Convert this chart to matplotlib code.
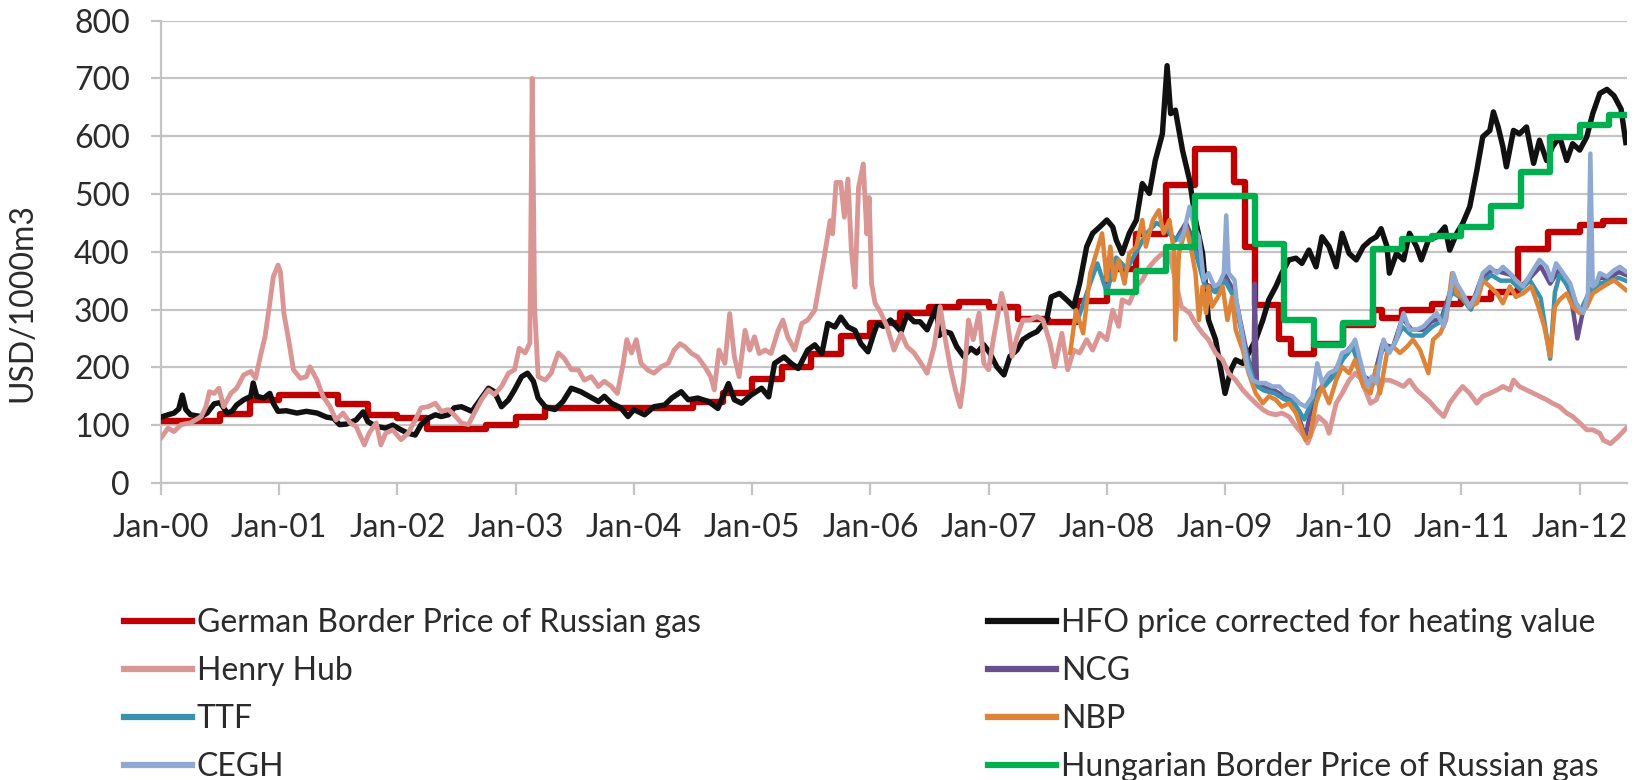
import matplotlib
matplotlib.use("Agg")
import matplotlib.pyplot as plt

# ---------------- data (decimal years, USD/1000m3) ----------------
years = list(range(2000, 2013))
year_labels = ["Jan-%02d" % (y % 100) for y in years]

german_t = [2000.0, 2000.5, 2000.75, 2001.0, 2001.5, 2001.75, 2002.0, 2002.25, 2002.75, 2003.0,
            2003.25, 2004.5, 2004.75, 2005.0, 2005.25, 2005.5, 2005.75, 2006.0, 2006.25, 2006.5,
            2006.75, 2007.0, 2007.25, 2007.5, 2007.75, 2008.0, 2008.25, 2008.5, 2008.75, 2009.08,
            2009.17, 2009.25, 2009.46, 2009.56, 2009.75, 2010.0, 2010.25, 2010.33, 2010.5, 2010.75,
            2011.0, 2011.25, 2011.48, 2011.73, 2012.0, 2012.2, 2012.4]
german_v = [108, 120, 143, 153, 136, 117, 113, 93, 100, 115,
            129, 140, 155, 180, 200, 224, 255, 277, 294, 305,
            313, 304, 283, 279, 315, 370, 430, 515, 578, 520,
            409, 308, 250, 224, 240, 273, 299, 285, 300, 310,
            318, 330, 405, 435, 446, 453, 453]

hungarian_t = [2008.0, 2008.25, 2008.5, 2008.75, 2009.25, 2009.5, 2009.75, 2010.0, 2010.25, 2010.5,
               2010.75, 2011.0, 2011.25, 2011.5, 2011.75, 2012.0, 2012.25, 2012.4]
hungarian_v = [330, 367, 408, 496, 414, 282, 238, 277, 405, 422,
               428, 443, 480, 538, 598, 620, 637, 637]

hfo_t = [2000.0, 2000.06, 2000.11, 2000.15, 2000.18, 2000.21, 2000.25, 2000.34, 2000.39, 2000.45,
         2000.5, 2000.56, 2000.6, 2000.64, 2000.7, 2000.76, 2000.78, 2000.81, 2000.87, 2000.92,
         2000.95, 2000.99, 2001.06, 2001.15, 2001.23, 2001.32, 2001.4, 2001.46, 2001.51, 2001.57,
         2001.65, 2001.71, 2001.75, 2001.82, 2001.9, 2001.96, 2002.03, 2002.09, 2002.15, 2002.2,
         2002.26, 2002.32, 2002.37, 2002.43, 2002.48, 2002.54, 2002.63, 2002.71, 2002.77, 2002.82,
         2002.88, 2002.94, 2002.99, 2003.05, 2003.1, 2003.15, 2003.19, 2003.25, 2003.33, 2003.4,
         2003.47, 2003.55, 2003.62, 2003.7, 2003.75, 2003.81, 2003.89, 2003.95, 2004.0, 2004.09,
         2004.17, 2004.26, 2004.32, 2004.4, 2004.46, 2004.54, 2004.63, 2004.71, 2004.8, 2004.85,
         2004.91, 2004.99, 2005.08, 2005.14, 2005.19, 2005.27, 2005.33, 2005.39, 2005.47, 2005.53,
         2005.59, 2005.64, 2005.7, 2005.75, 2005.81, 2005.87, 2005.92, 2005.98, 2006.03, 2006.06,
         2006.11, 2006.17, 2006.26, 2006.31, 2006.37, 2006.42, 2006.48, 2006.56, 2006.58, 2006.63,
         2006.68, 2006.73, 2006.79, 2006.85, 2006.9, 2006.96, 2007.01, 2007.07, 2007.13, 2007.18,
         2007.24, 2007.29, 2007.35, 2007.41, 2007.49, 2007.53, 2007.6, 2007.66, 2007.72, 2007.77,
         2007.83, 2007.88, 2007.94, 2008.0, 2008.05, 2008.08, 2008.13, 2008.19, 2008.25, 2008.3,
         2008.36, 2008.41, 2008.47, 2008.51, 2008.54, 2008.58, 2008.64, 2008.7, 2008.75, 2008.81,
         2008.86, 2008.92, 2008.96, 2009.0, 2009.05, 2009.09, 2009.15, 2009.2, 2009.26, 2009.32,
         2009.37, 2009.43, 2009.48, 2009.54, 2009.6, 2009.65, 2009.71, 2009.77, 2009.82, 2009.88,
         2009.94, 2009.99, 2010.05, 2010.11, 2010.17, 2010.23, 2010.28, 2010.32, 2010.37, 2010.39,
         2010.45, 2010.51, 2010.56, 2010.62, 2010.66, 2010.72, 2010.79, 2010.86, 2010.9, 2010.96,
         2011.01, 2011.07, 2011.13, 2011.18, 2011.24, 2011.27, 2011.31, 2011.35, 2011.38, 2011.44,
         2011.49, 2011.55, 2011.61, 2011.66, 2011.72, 2011.77, 2011.83, 2011.89, 2011.94, 2012.0,
         2012.06, 2012.11, 2012.17, 2012.23, 2012.29, 2012.35, 2012.39]
hfo_v = [114, 118, 121, 128, 152, 127, 118, 115, 121, 137,
         139, 121, 124, 135, 144, 150, 173, 150, 147, 155,
         138, 124, 125, 121, 124, 121, 114, 112, 101, 102,
         109, 123, 106, 98, 95, 100, 92, 86, 83, 101,
         112, 118, 115, 118, 130, 132, 124, 147, 164, 158,
         132, 144, 161, 184, 190, 176, 147, 132, 127, 141,
         164, 158, 150, 141, 150, 138, 130, 115, 127, 118,
         132, 135, 147, 158, 144, 147, 141, 129, 172, 144,
         138, 152, 164, 149, 207, 218, 207, 198, 230, 239,
         224, 276, 270, 287, 270, 264, 241, 227, 259, 276,
         271, 282, 262, 291, 279, 279, 265, 305, 255, 262,
         259, 236, 219, 233, 225, 239, 225, 201, 187, 219,
         230, 248, 256, 262, 282, 322, 328, 317, 305, 345,
         409, 432, 443, 455, 443, 420, 397, 432, 455, 518,
         501, 558, 604, 722, 639, 645, 576, 524, 455, 397,
         282, 248, 201, 155, 196, 213, 207, 225, 248, 282,
         317, 340, 363, 386, 389, 380, 403, 374, 426, 409,
         374, 432, 397, 386, 409, 420, 426, 440, 409, 363,
         397, 386, 432, 409, 386, 420, 426, 443, 403, 432,
         449, 478, 541, 599, 610, 642, 616, 582, 547, 610,
         604, 616, 553, 593, 558, 582, 599, 558, 587, 576,
         599, 639, 674, 681, 670, 647, 589]

henry_t = [2000.0, 2000.06, 2000.11, 2000.17, 2000.25, 2000.34, 2000.38, 2000.41, 2000.45, 2000.49,
           2000.53, 2000.59, 2000.64, 2000.7, 2000.76, 2000.8, 2000.84, 2000.88, 2000.92, 2000.95,
           2000.99, 2001.01, 2001.04, 2001.08, 2001.12, 2001.18, 2001.23, 2001.26, 2001.32, 2001.37,
           2001.43, 2001.48, 2001.54, 2001.6, 2001.65, 2001.72, 2001.76, 2001.82, 2001.86, 2001.9,
           2001.96, 2002.03, 2002.09, 2002.15, 2002.2, 2002.26, 2002.32, 2002.37, 2002.43, 2002.48,
           2002.54, 2002.6, 2002.65, 2002.71, 2002.77, 2002.82, 2002.88, 2002.94, 2002.99, 2003.03,
           2003.08, 2003.12, 2003.14, 2003.16, 2003.19, 2003.25, 2003.3, 2003.36, 2003.41, 2003.47,
           2003.53, 2003.58, 2003.64, 2003.7, 2003.75, 2003.81, 2003.86, 2003.91, 2003.94, 2003.98,
           2004.02, 2004.06, 2004.12, 2004.17, 2004.23, 2004.29, 2004.34, 2004.39, 2004.43, 2004.49,
           2004.54, 2004.6, 2004.65, 2004.68, 2004.72, 2004.77, 2004.81, 2004.85, 2004.89, 2004.94,
           2004.98, 2005.02, 2005.06, 2005.11, 2005.16, 2005.22, 2005.26, 2005.3, 2005.36, 2005.42,
           2005.47, 2005.53, 2005.57, 2005.61, 2005.66, 2005.68, 2005.71, 2005.75, 2005.78, 2005.81,
           2005.84, 2005.87, 2005.9, 2005.94, 2005.97, 2005.99, 2006.01, 2006.04, 2006.09, 2006.14,
           2006.2, 2006.26, 2006.31, 2006.37, 2006.42, 2006.48, 2006.54, 2006.59, 2006.63, 2006.68,
           2006.72, 2006.76, 2006.79, 2006.83, 2006.87, 2006.92, 2006.96, 2007.0, 2007.04, 2007.08,
           2007.11, 2007.15, 2007.2, 2007.24, 2007.29, 2007.35, 2007.41, 2007.46, 2007.52, 2007.56,
           2007.62, 2007.67, 2007.72, 2007.77, 2007.83, 2007.88, 2007.94, 2008.0, 2008.05, 2008.1,
           2008.13, 2008.19, 2008.25, 2008.3, 2008.36, 2008.41, 2008.47, 2008.53, 2008.58, 2008.63,
           2008.7, 2008.75, 2008.81, 2008.86, 2008.92, 2008.98, 2009.03, 2009.09, 2009.15, 2009.2,
           2009.26, 2009.32, 2009.37, 2009.43, 2009.48, 2009.54, 2009.6, 2009.65, 2009.7, 2009.74,
           2009.79, 2009.85, 2009.88, 2009.94, 2009.99, 2010.05, 2010.1, 2010.15, 2010.23, 2010.28,
           2010.34, 2010.39, 2010.45, 2010.51, 2010.56, 2010.62, 2010.68, 2010.73, 2010.79, 2010.85,
           2010.9, 2010.96, 2011.01, 2011.07, 2011.13, 2011.18, 2011.24, 2011.3, 2011.35, 2011.41,
           2011.44, 2011.49, 2011.55, 2011.61, 2011.66, 2011.72, 2011.77, 2011.83, 2011.89, 2011.94,
           2012.0, 2012.06, 2012.11, 2012.17, 2012.2, 2012.26, 2012.32, 2012.39]
henry_v = [78, 95, 89, 101, 104, 115, 132, 158, 155, 164,
           132, 155, 164, 187, 193, 181, 219, 253, 311, 357,
           377, 365, 293, 247, 196, 181, 184, 201, 178, 150,
           132, 109, 121, 104, 98, 66, 86, 104, 66, 86,
           92, 75, 86, 109, 130, 132, 138, 124, 127, 118,
           104, 101, 121, 144, 161, 153, 167, 190, 196, 233,
           225, 242, 700, 305, 184, 178, 190, 225, 216, 196,
           196, 178, 184, 167, 176, 167, 155, 207, 248, 225,
           248, 207, 195, 190, 201, 207, 230, 241, 236, 224,
           218, 201, 184, 161, 230, 207, 293, 218, 184, 264,
           230, 253, 224, 230, 224, 264, 282, 253, 230, 276,
           282, 299, 345, 391, 454, 431, 520, 520, 460, 526,
           402, 339, 511, 552, 431, 494, 345, 311, 294, 271,
           230, 259, 236, 225, 210, 190, 236, 305, 253, 196,
           161, 132, 178, 282, 248, 294, 207, 196, 248, 294,
           328, 294, 219, 253, 282, 282, 288, 282, 242, 201,
           259, 196, 230, 225, 248, 230, 259, 248, 299, 271,
           317, 311, 340, 351, 374, 386, 397, 397, 351, 305,
           294, 276, 259, 248, 225, 213, 190, 178, 161, 150,
           138, 127, 121, 118, 121, 115, 98, 86, 69, 92,
           115, 104, 86, 138, 155, 178, 190, 180, 138, 144,
           178, 178, 173, 167, 178, 161, 150, 141, 127, 115,
           138, 155, 167, 155, 138, 150, 155, 161, 167, 161,
           178, 167, 161, 155, 150, 144, 138, 132, 121, 115,
           104, 92, 92, 86, 74, 68, 79, 94]

ncg_t = [2008.5, 2008.58, 2008.67, 2008.75, 2008.83, 2008.92, 2009.0, 2009.08, 2009.17, 2009.24,
         2009.25, 2009.27, 2009.33, 2009.42, 2009.5, 2009.58, 2009.68, 2009.75, 2009.83, 2009.92,
         2010.0, 2010.08, 2010.17, 2010.25, 2010.33, 2010.42, 2010.5, 2010.58, 2010.67, 2010.75,
         2010.83, 2010.92, 2011.0, 2011.08, 2011.17, 2011.25, 2011.33, 2011.42, 2011.5, 2011.58,
         2011.67, 2011.75, 2011.83, 2011.92, 2011.98, 2012.03, 2012.08, 2012.17, 2012.25, 2012.33,
         2012.39]
ncg_v = [440, 420, 450, 410, 345, 335, 360, 330, 240, 175,
         345, 175, 165, 160, 150, 140, 80, 150, 170, 190,
         220, 240, 185, 175, 240, 235, 285, 265, 265, 280,
         285, 340, 325, 305, 355, 368, 365, 360, 340, 355,
         375, 345, 370, 330, 250, 300, 330, 355, 355, 365,
         360]

ttf_t = [2007.75, 2007.85, 2007.92, 2008.0, 2008.08, 2008.17, 2008.25, 2008.33, 2008.42, 2008.5,
         2008.58, 2008.67, 2008.75, 2008.83, 2008.92, 2009.0, 2009.08, 2009.17, 2009.25, 2009.33,
         2009.42, 2009.5, 2009.58, 2009.67, 2009.75, 2009.83, 2009.92, 2010.0, 2010.08, 2010.17,
         2010.25, 2010.33, 2010.42, 2010.5, 2010.58, 2010.67, 2010.75, 2010.83, 2010.92, 2011.0,
         2011.08, 2011.17, 2011.25, 2011.33, 2011.42, 2011.5, 2011.58, 2011.67, 2011.75, 2011.79,
         2011.83, 2011.92, 2012.0, 2012.08, 2012.17, 2012.25, 2012.33, 2012.39]
ttf_v = [280, 340, 380, 330, 390, 370, 400, 430, 450, 440,
         420, 440, 400, 340, 330, 350, 320, 230, 170, 160,
         155, 145, 140, 110, 150, 165, 185, 215, 235, 180,
         170, 230, 235, 270, 255, 255, 270, 280, 330, 320,
         300, 345, 360, 350, 350, 335, 350, 320, 215, 330,
         360, 335, 295, 330, 345, 350, 355, 350]

nbp_t = [2007.69, 2007.74, 2007.8, 2007.86, 2007.91, 2007.96, 2008.0, 2008.03, 2008.06, 2008.1,
         2008.15, 2008.19, 2008.25, 2008.3, 2008.33, 2008.39, 2008.44, 2008.48, 2008.53, 2008.57,
         2008.58, 2008.61, 2008.67, 2008.71, 2008.75, 2008.78, 2008.81, 2008.84, 2008.86, 2008.89,
         2008.94, 2008.98, 2009.02, 2009.06, 2009.09, 2009.15, 2009.2, 2009.26, 2009.32, 2009.37,
         2009.43, 2009.48, 2009.54, 2009.6, 2009.64, 2009.68, 2009.72, 2009.77, 2009.82, 2009.88,
         2009.94, 2009.99, 2010.05, 2010.1, 2010.17, 2010.23, 2010.28, 2010.31, 2010.37, 2010.42,
         2010.48, 2010.54, 2010.59, 2010.65, 2010.72, 2010.76, 2010.82, 2010.87, 2010.92, 2010.96,
         2011.01, 2011.07, 2011.13, 2011.18, 2011.24, 2011.3, 2011.35, 2011.41, 2011.46, 2011.52,
         2011.59, 2011.65, 2011.7, 2011.75, 2011.79, 2011.83, 2011.89, 2011.94, 2012.0, 2012.06,
         2012.11, 2012.2, 2012.29, 2012.39]
nbp_v = [225, 299, 259, 363, 397, 432, 351, 409, 351, 386,
         345, 397, 409, 455, 409, 455, 472, 432, 455, 397,
         248, 397, 443, 409, 363, 282, 340, 294, 340, 305,
         322, 340, 282, 322, 265, 230, 190, 155, 138, 150,
         144, 132, 138, 121, 98, 75, 81, 138, 167, 138,
         178, 201, 190, 213, 167, 155, 201, 155, 225, 236,
         225, 236, 248, 230, 190, 248, 259, 282, 363, 328,
         322, 305, 311, 351, 340, 328, 311, 340, 322, 328,
         340, 305, 271, 219, 305, 317, 328, 305, 294, 305,
         328, 340, 351, 334]

cegh_t = [2008.62, 2008.65, 2008.7, 2008.74, 2008.78, 2008.82, 2008.86, 2008.91, 2008.95, 2008.99,
          2009.01, 2009.03, 2009.08, 2009.1, 2009.15, 2009.19, 2009.23, 2009.29, 2009.34, 2009.4,
          2009.46, 2009.51, 2009.57, 2009.63, 2009.68, 2009.74, 2009.78, 2009.82, 2009.88, 2009.94,
          2009.99, 2010.05, 2010.1, 2010.17, 2010.21, 2010.24, 2010.28, 2010.34, 2010.39, 2010.45,
          2010.51, 2010.56, 2010.62, 2010.68, 2010.73, 2010.79, 2010.85, 2010.9, 2010.93, 2010.96,
          2011.01, 2011.07, 2011.13, 2011.18, 2011.24, 2011.3, 2011.35, 2011.41, 2011.46, 2011.52,
          2011.59, 2011.66, 2011.72, 2011.76, 2011.8, 2011.86, 2011.92, 2011.97, 2012.03, 2012.07,
          2012.09, 2012.11, 2012.14, 2012.17, 2012.23, 2012.29, 2012.34, 2012.39]
cegh_v = [420, 432, 478, 443, 426, 351, 363, 340, 345, 363,
          463, 363, 351, 311, 253, 201, 178, 173, 173, 167,
          167, 155, 150, 138, 132, 150, 207, 173, 190, 196,
          225, 230, 248, 190, 167, 184, 173, 248, 225, 248,
          294, 265, 265, 271, 282, 294, 271, 322, 363, 345,
          328, 305, 328, 363, 374, 363, 374, 363, 351, 340,
          363, 386, 374, 351, 380, 363, 345, 311, 294, 328,
          570, 340, 345, 363, 357, 368, 374, 366]

# ---------------- styling ----------------
plt.rcParams["font.family"] = ["Lato", "DejaVu Sans"]
TXT = "#2B2B2B"
GRID = "#C4C4C4"
FS = 23

fig = plt.figure(figsize=(16.35, 7.8), dpi=100)
ax = fig.add_axes([161 / 1635, 1 - 483 / 780, (1627 - 161) / 1635, (483 - 20.6) / 780])

h_red, = ax.plot(german_t, german_v, drawstyle="steps-post", color="#C00000", lw=4.6,
                 label="German Border Price of Russian gas", zorder=3)
h_blk, = ax.plot(hfo_t, hfo_v, color="#111111", lw=3.9,
                 label="HFO price corrected for heating value", zorder=4)
h_hh, = ax.plot(henry_t, henry_v, color="#DA9694", lw=3.5, label="Henry Hub", zorder=5)
h_ncg, = ax.plot(ncg_t, ncg_v, color="#6A4F8E", lw=3.2, label="NCG", zorder=6)
h_ttf, = ax.plot(ttf_t, ttf_v, color="#3A93AE", lw=3.2, label="TTF", zorder=7)
h_nbp, = ax.plot(nbp_t, nbp_v, color="#DE8439", lw=3.2, label="NBP", zorder=8)
h_ceg, = ax.plot(cegh_t, cegh_v, color="#8EA9D2", lw=3.2, label="CEGH", zorder=9)
h_grn, = ax.plot(hungarian_t, hungarian_v, drawstyle="steps-post", color="#00B050", lw=4.6,
                 label="Hungarian Border Price of Russian gas", zorder=10)

ax.set_xlim(2000, 2012.4)
ax.set_ylim(0, 800)
ax.set_xticks(years)
ax.set_xticklabels(year_labels)
ax.set_yticks(range(0, 801, 100))
ax.yaxis.grid(True, color=GRID, lw=1.6)
ax.set_axisbelow(True)
for s in ("top", "right"):
    ax.spines[s].set_visible(False)
for s in ("left", "bottom"):
    ax.spines[s].set_color(GRID)
    ax.spines[s].set_linewidth(1.6)
ax.tick_params(axis="both", colors=GRID, width=1.6, direction="out",
               labelsize=FS, labelcolor=TXT)
ax.tick_params(axis="x", length=8.6, pad=13)
ax.tick_params(axis="y", length=7.5, pad=15)
ax.set_ylabel("USD/1000m3", fontsize=FS, color=TXT)
ax.yaxis.set_label_coords(-0.084, 0.39)

leg_kw = dict(frameon=False, fontsize=FS, handlelength=2.13, handletextpad=0.15,
              labelspacing=0.56, borderpad=0, borderaxespad=0, loc="center left",
              labelcolor=TXT)
leg1 = fig.legend([h_red, h_hh, h_ttf, h_ceg],
                  [h.get_label() for h in (h_red, h_hh, h_ttf, h_ceg)],
                  bbox_to_anchor=(124 / 1635, 1 - 695 / 780), **leg_kw)
leg2 = fig.legend([h_blk, h_ncg, h_nbp, h_grn],
                  [h.get_label() for h in (h_blk, h_ncg, h_nbp, h_grn)],
                  bbox_to_anchor=(988 / 1635, 1 - 695 / 780), **leg_kw)
for lg in (leg1, leg2):
    for ln in lg.get_lines():
        ln.set_linewidth(4.5)

fig.savefig("out.png", dpi=100)
